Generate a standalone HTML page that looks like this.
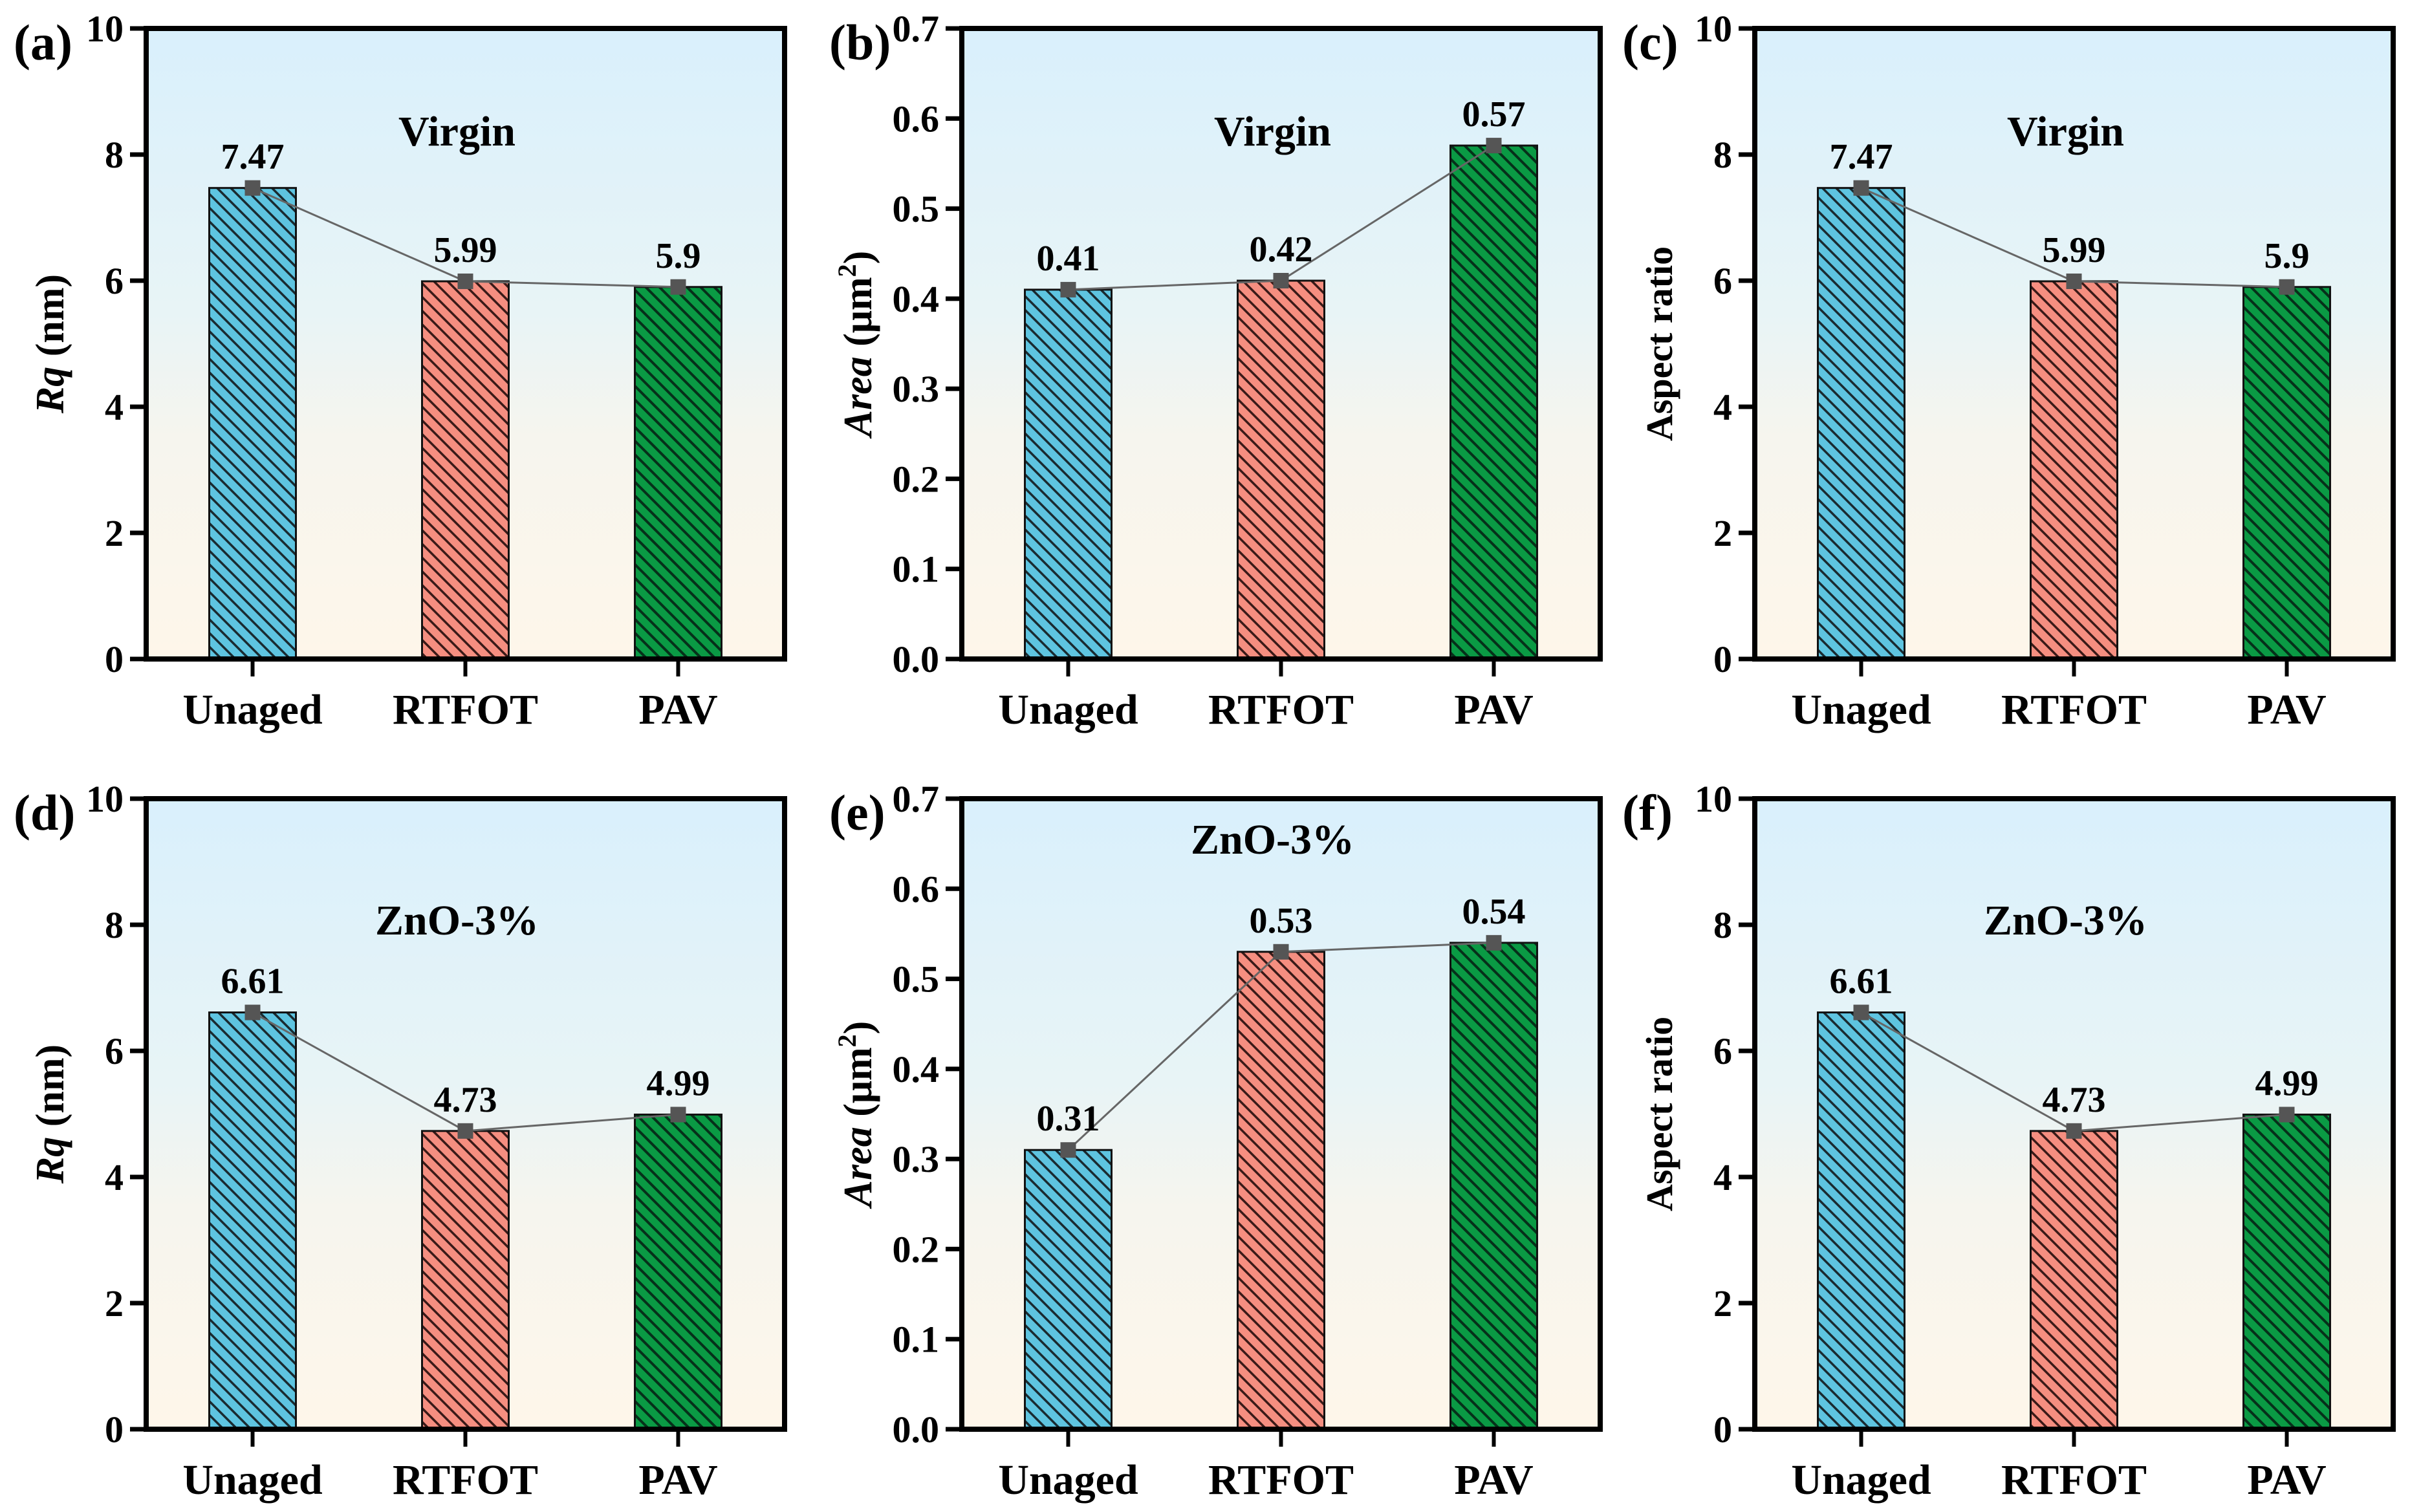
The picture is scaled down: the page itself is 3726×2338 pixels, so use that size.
<!DOCTYPE html>
<html><head><meta charset="utf-8"><style>
html,body{margin:0;padding:0;background:#fff;}
svg{display:block;}
text{font-family:"Liberation Serif","Times New Roman",Times,serif;font-weight:bold;fill:#000;}
</style></head><body>
<svg id="fig" width="3726" height="2338" viewBox="0 0 3726 2338" xmlns="http://www.w3.org/2000/svg">
<defs>
<linearGradient id="bg" x1="0" y1="0" x2="0" y2="1">
<stop offset="0" stop-color="#d9f0fc"/><stop offset="0.45" stop-color="#e8f4f6"/><stop offset="0.65" stop-color="#f6f5ee"/><stop offset="1" stop-color="#fef6ea"/>
</linearGradient>
<pattern id="h0" patternUnits="userSpaceOnUse" width="15" height="15" patternTransform="rotate(-45)"><rect width="15" height="15" fill="#5ec4e0"/><rect x="0" y="0" width="3.5" height="15" fill="#1a2a30"/></pattern>
<pattern id="h1" patternUnits="userSpaceOnUse" width="15" height="15" patternTransform="rotate(-45)"><rect width="15" height="15" fill="#f58e80"/><rect x="0" y="0" width="3.5" height="15" fill="#3a1a18"/></pattern>
<pattern id="h2" patternUnits="userSpaceOnUse" width="15" height="15" patternTransform="rotate(-45)"><rect width="15" height="15" fill="#0a9a44"/><rect x="0" y="0" width="4" height="15" fill="#06301a"/></pattern>
</defs>
</svg>
<script>
const categories = ["Unaged","RTFOT","PAV"];
const rqVirgin = [7.47, 5.99, 5.9];
const areaVirgin = [0.41, 0.42, 0.57];
const aspectVirgin = [7.47, 5.99, 5.9];
const rqZnO = [6.61, 4.73, 4.99];
const areaZnO = [0.31, 0.53, 0.54];
const aspectZnO = [6.61, 4.73, 4.99];
const labelsRqVirgin = ["7.47","5.99","5.9"];
const labelsAreaVirgin = ["0.41","0.42","0.57"];
const labelsRqZnO = ["6.61","4.73","4.99"];
const labelsAreaZnO = ["0.31","0.53","0.54"];
const ticks10 = [0,2,4,6,8,10];
const tickLabels10 = ["0","2","4","6","8","10"];
const ticks07 = [0,0.1,0.2,0.3,0.4,0.5,0.6,0.7];
const tickLabels07 = ["0.0","0.1","0.2","0.3","0.4","0.5","0.6","0.7"];

const NS="http://www.w3.org/2000/svg";
const svg=document.getElementById('fig');
function mk(tag,attrs,parent){const e=document.createElementNS(NS,tag);for(const k in attrs)e.setAttribute(k,attrs[k]);if(tag==='text'){e.style.fontFamily='"Liberation Serif","Times New Roman",Times,serif';e.style.fontWeight='bold';}(parent||svg).appendChild(e);return e;}

const W=987,H=975;
const panels=[
 {id:'a',x:226,y:44,vals:rqVirgin,labs:labelsRqVirgin,max:10,ticks:ticks10,tl:tickLabels10,title:'Virgin',ty:225,yt:'rq'},
 {id:'b',x:1487,y:44,vals:areaVirgin,labs:labelsAreaVirgin,max:0.7,ticks:ticks07,tl:tickLabels07,title:'Virgin',ty:225,yt:'area'},
 {id:'c',x:2713,y:44,vals:aspectVirgin,labs:labelsRqVirgin,max:10,ticks:ticks10,tl:tickLabels10,title:'Virgin',ty:225,yt:'aspect'},
 {id:'d',x:226,y:1235,vals:rqZnO,labs:labelsRqZnO,max:10,ticks:ticks10,tl:tickLabels10,title:'ZnO-3%',ty:1445,yt:'rq'},
 {id:'e',x:1487,y:1235,vals:areaZnO,labs:labelsAreaZnO,max:0.7,ticks:ticks07,tl:tickLabels07,title:'ZnO-3%',ty:1320,yt:'area'},
 {id:'f',x:2713,y:1235,vals:aspectZnO,labs:labelsRqZnO,max:10,ticks:ticks10,tl:tickLabels10,title:'ZnO-3%',ty:1445,yt:'aspect'}
];
panels.forEach(p=>{
 const g=mk('g',{});
 
 
 const yS=v=>p.y+H-(v/p.max)*H;
 const xS=i=>p.x+W*(2*i+1)/6;
 const bg=mk('rect',{x:p.x,y:p.y,width:W,height:H,fill:'url(#bg)'},g);
 
 
 p.vals.forEach((v,i)=>{
  const b=mk('rect',{x:xS(i)-67,y:yS(v),width:134,height:yS(0)-yS(v),fill:'url(#h'+i+')',stroke:'#111','stroke-width':3},g);
  
  
 });
 const pts=p.vals.map((v,i)=>xS(i)+','+yS(v)).join(' ');
 const ln=mk('polyline',{points:pts,fill:'none',stroke:'#666','stroke-width':3},g);
 
 
 p.vals.forEach((v,i)=>{
  const m=mk('rect',{x:xS(i)-12,y:yS(v)-12,width:24,height:24,fill:'#555'},g);
  
  
  const t=mk('text',{x:xS(i),y:yS(v)-30,'font-size':56,'text-anchor':'middle'},g);
  t.textContent=p.labs[i];
  
  
 });
 const fr=mk('rect',{x:p.x,y:p.y,width:W,height:H,fill:'none',stroke:'#000','stroke-width':8},g);
 
 
 p.ticks.forEach((v,k)=>{
  const y=yS(v);
  mk('line',{x1:p.x-25,x2:p.x,y1:y,y2:y,stroke:'#000','stroke-width':7},g);
  const t=mk('text',{x:p.x-35,y:y+20,'font-size':58,'text-anchor':'end'},g);
  t.textContent=p.tl[k];
  
  
 });
 categories.forEach((c,i)=>{
  mk('line',{x1:xS(i),x2:xS(i),y1:p.y+H,y2:p.y+H+27,stroke:'#000','stroke-width':6},g);
  const t=mk('text',{x:xS(i),y:p.y+H+100,'font-size':66,'text-anchor':'middle'},g);
  t.textContent=c;
  
  
 });
 const tt=mk('text',{x:p.x+W/2-13,y:p.ty,'font-size':66,'text-anchor':'middle'},g);
 tt.textContent=p.title;
 
 
 const pl=mk('text',{x:p.x-205,y:p.y+48,'font-size':78,'text-anchor':'start'},g);
 pl.textContent='('+p.id+')';
 
 
 const cy=p.y+H/2;
 let ax;
 if(p.yt==='rq'){
  ax=mk('text',{x:0,y:0,'font-size':62,'text-anchor':'middle',transform:`translate(${p.x-128},${cy}) rotate(-90)`},g);
  ax.innerHTML='<tspan font-style="italic">Rq</tspan> (nm)';
 } else if(p.yt==='area'){
  ax=mk('text',{x:0,y:0,'font-size':62,'text-anchor':'middle',transform:`translate(${p.x-140},${cy}) rotate(-90)`},g);
  ax.innerHTML='<tspan font-style="italic">Area</tspan> (μm<tspan font-size="40" dy="-24">2</tspan><tspan dy="24">)</tspan>';
 } else {
  ax=mk('text',{x:0,y:0,'font-size':58,'text-anchor':'middle',transform:`translate(${p.x-128},${cy}) rotate(-90)`},g);
  ax.textContent='Aspect ratio';
 }
 
 
});
</script>
</body></html>
